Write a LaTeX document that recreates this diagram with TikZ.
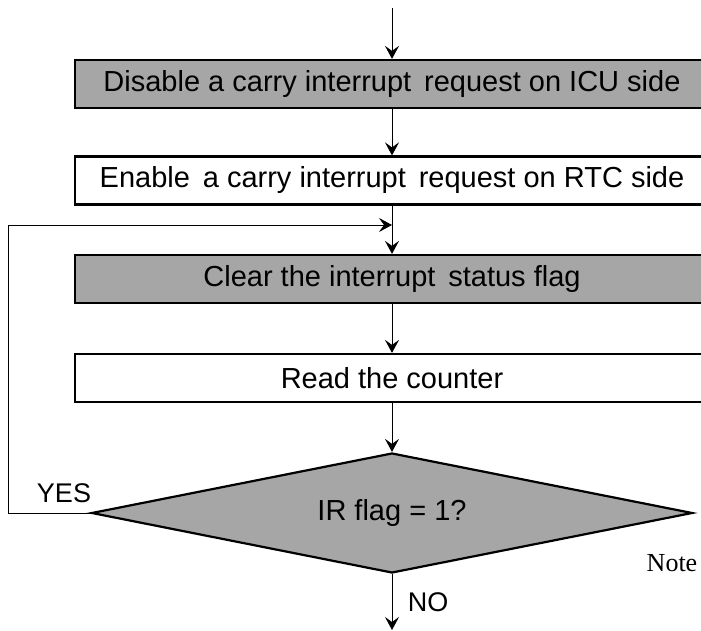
\documentclass[tikz,border=0pt]{standalone}
\usepackage{fontspec}
\setmainfont{Liberation Sans}
\newfontfamily\notefont{Liberation Serif}
\usetikzlibrary{shapes.geometric,arrows.meta}
\definecolor{boxgray}{RGB}{166,166,166}
\tikzset{>={Stealth[length=13pt,width=14pt,inset=5pt]}}
\tikzset{
	stepbox/.style={draw, line width=2.2pt, minimum width=634pt, minimum height=48pt, inner sep=0pt, font=\fontsize{29}{32}\selectfont},
	graybox/.style={stepbox, fill=boxgray},
	decision/.style={diamond, draw, line width=2.2pt, fill=boxgray, aspect=5, inner sep=0pt, minimum width=601pt, minimum height=120pt, font=\fontsize{29}{32}\selectfont},
	flow/.style={->, line width=0.9pt},
	answer/.style={font=\fontsize{27}{30}\selectfont}
}

\begin{document}
\begin{tikzpicture}[x=1pt, y=-1pt]
		% Frame
		\useasboundingbox (0,0) rectangle (701,631);
		\clip (0,0) rectangle (701,631);

		% Steps
		\node[graybox] (disable) at (392,84) {Disable a carry interrupt\, request on ICU side};
		\node[stepbox] (enable) at (392,180.5) {Enable\, a carry interrupt\, request on RTC side};
		\node[graybox] (clear) at (392,279) {Clear the interrupt\, status flag};
		\node[stepbox] (read) at (392,378) {Read the counter};
		\node[decision] (irflag) at (392,513) {IR flag = 1?};

		% Free ends
		\coordinate (start) at (392,8);
		\coordinate (stop) at (392,630);
		\coordinate (join) at (392,225);

		% Connectors
		\draw[flow] (start) -- (disable);
		\draw[flow] (disable) -- (enable);
		\draw[flow] (enable) -- (clear);
		\draw[flow] (clear) -- (read);
		\draw[flow] (read) -- (irflag);
		\draw[flow] (irflag) -- (stop);
		\draw[flow] (irflag.west) -- ++(-82,0) |- (join);

		% Labels
		\node[answer] (yes) at (64,493) {YES};
		\node[answer] (no) at (428,602) {NO};
		\node[font=\notefont\fontsize{26}{28}\selectfont] (note) at (672,563) {Note};
	\end{tikzpicture}
\end{document}
